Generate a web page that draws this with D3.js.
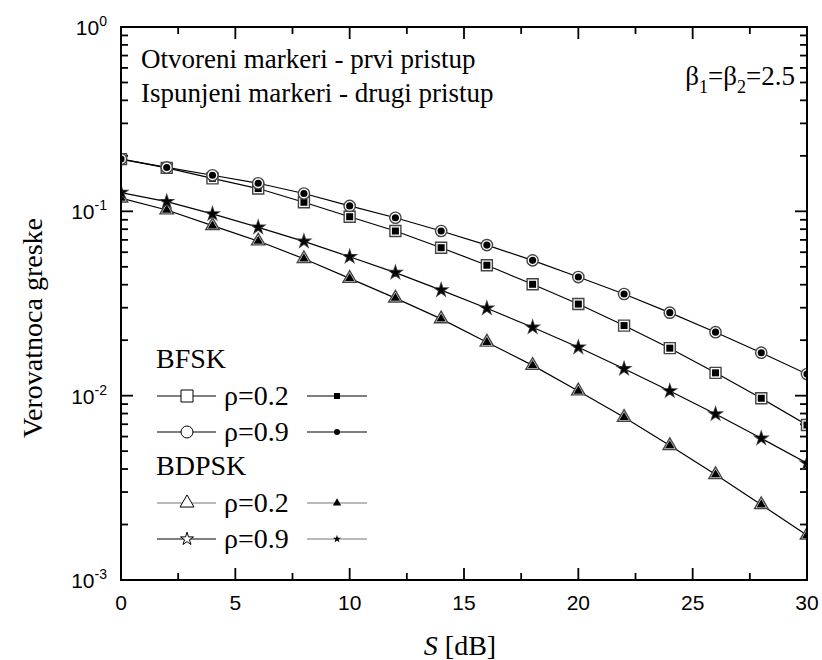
<!DOCTYPE html>
<html>
<head>
<meta charset="utf-8">
<script src="https://cdn.jsdelivr.net/npm/d3@7"></script>
<style>
body { margin: 0; background: #fff; }
</style>
</head>
<body>
<div id="chart"></div>
<script>
const width = 822;
const height = 660;
const margin = { left: 121, top: 27, right: 15, bottom: 80 };

// S [dB]
const snr = [0, 2, 4, 6, 8, 10, 12, 14, 16, 18, 20, 22, 24, 26, 28, 30];

// verovatnoca greske, procitano sa slike
const bfsk02 = [0.192, 0.172, 0.151, 0.133, 0.112, 0.0935, 0.0782, 0.0635, 0.051, 0.0402, 0.0314, 0.024, 0.0181, 0.0133, 0.00968, 0.00693];
const bfsk09 = [0.192, 0.173, 0.157, 0.142, 0.125, 0.107, 0.0923, 0.0782, 0.0656, 0.0542, 0.044, 0.0356, 0.0282, 0.0221, 0.0171, 0.0131];
const bdpsk02 = [0.118, 0.1017, 0.0836, 0.069, 0.0553, 0.0433, 0.0338, 0.0261, 0.0195, 0.0146, 0.0106, 0.00763, 0.00536, 0.00373, 0.00256, 0.00175];
const bdpsk09 = [0.1265, 0.1128, 0.0968, 0.0819, 0.0687, 0.0567, 0.0465, 0.0374, 0.0298, 0.0235, 0.0183, 0.014, 0.0106, 0.00795, 0.00587, 0.0043];

const seriesValues = [bfsk02, bfsk09, bdpsk02, bdpsk09];
const seriesNames = ["BFSK", "BFSK", "BDPSK", "BDPSK"];
const seriesLabels = ["\u03c1=0.2", "\u03c1=0.9", "\u03c1=0.2", "\u03c1=0.9"];

const xMajor = [0, 5, 10, 15, 20, 25, 30];
const xMinor = [2.5, 7.5, 12.5, 17.5, 22.5, 27.5];
const yMajor = [1, 0.1, 0.01, 0.001];
const yExp = ["0", "-1", "-2", "-3"];

// izgled markera (povrsina d3 simbola)
const styles = [
    { symbol: d3.symbolSquare, open: 121, filled: 49, legOpen: 144, legFilled: 36, legendY: 396, legLine: "#000", legLine2: "#000" },
    { symbol: d3.symbolCircle, open: 100, filled: 40, legOpen: 113, legFilled: 28, legendY: 432, legLine: "#000", legLine2: "#000" },
    { symbol: d3.symbolTriangle, open: 78, filled: 38, legOpen: 85, legFilled: 30, legendY: 503, legLine: "#777", legLine2: "#777" },
    { symbol: d3.symbolStar, open: 52, filled: 46, legOpen: 52, legFilled: 20, legendY: 539, legLine: "#000", legLine2: "#777" }
];

const serif = "'Liberation Serif', 'Times New Roman', serif";
const sans = "'Liberation Sans', Arial, sans-serif";

const svg = d3.select("#chart").append("svg")
    .attr("width", width)
    .attr("height", height);

svg.append("rect").attr("width", width).attr("height", height).attr("fill", "#fff");

const x = d3.scaleLinear().domain([0, 30]).range([margin.left, width - margin.right]);
const y = d3.scaleLog().domain([0.001, 1]).range([height - margin.bottom, margin.top]);

svg.append("defs").append("clipPath")
    .attr("id", "clip")
    .append("rect")
    .attr("x", x(0))
    .attr("y", y(1))
    .attr("width", x(30) - x(0))
    .attr("height", y(0.001) - y(1));

// minor y ticks
const yMinor = [];
[0.001, 0.01, 0.1].forEach(d => {
    for (let k = 2; k <= 9; k++) yMinor.push(d * k);
});

const axes = svg.append("g").attr("stroke", "#000").attr("stroke-width", 1.8);

// left + right ticks
yMajor.forEach(v => {
    axes.append("line").attr("x1", x(0)).attr("x2", x(0) + 12).attr("y1", y(v)).attr("y2", y(v));
    axes.append("line").attr("x1", x(30)).attr("x2", x(30) - 12).attr("y1", y(v)).attr("y2", y(v));
});
yMinor.forEach(v => {
    axes.append("line").attr("x1", x(0)).attr("x2", x(0) + 7).attr("y1", y(v)).attr("y2", y(v));
    axes.append("line").attr("x1", x(30)).attr("x2", x(30) - 7).attr("y1", y(v)).attr("y2", y(v));
});
// bottom + top ticks
xMajor.forEach(v => {
    axes.append("line").attr("x1", x(v)).attr("x2", x(v)).attr("y1", y(0.001)).attr("y2", y(0.001) - 12);
    axes.append("line").attr("x1", x(v)).attr("x2", x(v)).attr("y1", y(1)).attr("y2", y(1) + 12);
});
xMinor.forEach(v => {
    axes.append("line").attr("x1", x(v)).attr("x2", x(v)).attr("y1", y(0.001)).attr("y2", y(0.001) - 7);
    axes.append("line").attr("x1", x(v)).attr("x2", x(v)).attr("y1", y(1)).attr("y2", y(1) + 7);
});

// tick labels
svg.append("g").selectAll("text")
    .data(xMajor)
    .enter().append("text")
    .attr("x", d => x(d))
    .attr("y", y(0.001) + 30)
    .attr("text-anchor", "middle")
    .style("font-family", sans)
    .style("font-size", "21px")
    .text(d => d);

const yl = svg.append("g").selectAll("text")
    .data(yMajor)
    .enter().append("text")
    .attr("x", x(0) - 14)
    .attr("y", d => y(d) + 8)
    .attr("text-anchor", "end")
    .style("font-family", sans)
    .style("font-size", "21px");
yl.append("tspan").text("10");
yl.append("tspan").attr("dy", -9).style("font-size", "14px").text((d, i) => yExp[i]);

// lines + markers
const line = d3.line()
    .x((d, i) => x(snr[i]))
    .y(d => y(d));

const plot = svg.append("g").attr("clip-path", "url(#clip)");

seriesValues.forEach(vals => {
    plot.append("path")
        .datum(vals)
        .attr("d", line)
        .attr("fill", "none")
        .attr("stroke", "#000")
        .attr("stroke-width", 1.2);
});

seriesValues.forEach((vals, k) => {
    const st = styles[k];
    // otvoreni markeri - prvi pristup
    plot.append("g").selectAll("path")
        .data(vals)
        .enter().append("path")
        .attr("transform", (d, i) => `translate(${x(snr[i])},${y(d)})`)
        .attr("d", d3.symbol().type(st.symbol).size(st.open))
        .attr("fill", "#fff")
        .attr("stroke", "#444")
        .attr("stroke-width", 1.4);
    // ispunjeni markeri - drugi pristup
    plot.append("g").selectAll("path")
        .data(vals)
        .enter().append("path")
        .attr("transform", (d, i) => `translate(${x(snr[i])},${y(d)})`)
        .attr("d", d3.symbol().type(st.symbol).size(st.filled))
        .attr("fill", "#000");
});

// frame
svg.append("rect")
    .attr("x", x(0))
    .attr("y", y(1))
    .attr("width", x(30) - x(0))
    .attr("height", y(0.001) - y(1))
    .attr("fill", "none")
    .attr("stroke", "#000")
    .attr("stroke-width", 2);

// legend
const legend = svg.append("g");
const headers = [{ text: "BFSK", y: 368 }, { text: "BDPSK", y: 475 }];
headers.forEach(h => {
    legend.append("text")
        .attr("x", 156)
        .attr("y", h.y)
        .style("font-family", serif)
        .style("font-size", "28px")
        .text(h.text);
});

seriesLabels.forEach((label, k) => {
    const st = styles[k];
    const ly = st.legendY;
    legend.append("line").attr("x1", 157).attr("x2", 216).attr("y1", ly).attr("y2", ly)
        .attr("stroke", st.legLine).attr("stroke-width", 1.2);
    legend.append("path")
        .attr("transform", `translate(187,${ly})`)
        .attr("d", d3.symbol().type(st.symbol).size(st.legOpen))
        .attr("fill", "#fff")
        .attr("stroke", "#000")
        .attr("stroke-width", 1);
    legend.append("text")
        .attr("x", 224)
        .attr("y", ly + 9)
        .style("font-family", serif)
        .style("font-size", "28px")
        .text(label);
    legend.append("line").attr("x1", 307).attr("x2", 367).attr("y1", ly).attr("y2", ly)
        .attr("stroke", st.legLine2).attr("stroke-width", 1.2);
    legend.append("path")
        .attr("transform", `translate(337,${ly})`)
        .attr("d", d3.symbol().type(st.symbol).size(st.legFilled))
        .attr("fill", "#000");
});

// annotations
const note = svg.append("g")
    .style("font-family", serif)
    .style("font-size", "27px");
note.append("text").attr("x", 141).attr("y", 68).text("Otvoreni markeri - prvi pristup");
note.append("text").attr("x", 141).attr("y", 102).text("Ispunjeni markeri - drugi pristup");

const beta = note.append("text").attr("x", 795).attr("y", 85).attr("text-anchor", "end");
beta.append("tspan").text("\u03b2");
beta.append("tspan").attr("dy", 8).style("font-size", "18px").text("1");
beta.append("tspan").attr("dy", -8).text("=\u03b2");
beta.append("tspan").attr("dy", 8).style("font-size", "18px").text("2");
beta.append("tspan").attr("dy", -8).text("=2.5");

// axis titles
const xt = svg.append("text")
    .attr("x", 460)
    .attr("y", 655)
    .attr("text-anchor", "middle")
    .style("font-family", serif)
    .style("font-size", "28px");
xt.append("tspan").style("font-style", "italic").text("S");
xt.append("tspan").text(" [dB]");

svg.append("text")
    .attr("transform", "translate(42,328) rotate(-90)")
    .attr("text-anchor", "middle")
    .style("font-family", serif)
    .style("font-size", "28px")
    .text("Verovatnoca greske");
</script>
</body>
</html>
